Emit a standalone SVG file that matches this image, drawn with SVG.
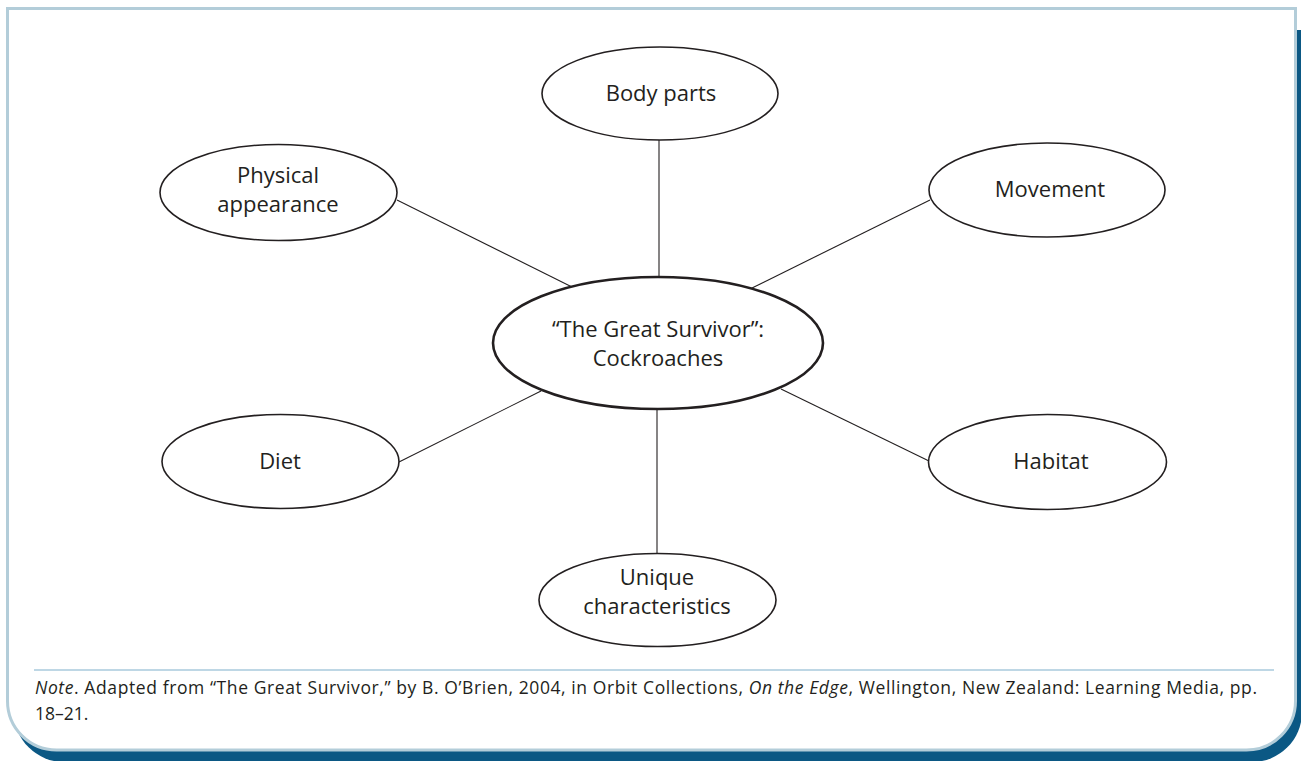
<svg xmlns="http://www.w3.org/2000/svg" width="1301" height="761" viewBox="0 0 1301 761">
<style>
.node ellipse{fill:#fff;stroke:#231f20;stroke-width:1.6}
.node.main ellipse{stroke-width:2.6}
.lbl{font-family:"Open Sans",Lato,sans-serif;font-size:22px;fill:#231f20;text-anchor:middle}
.conn line{stroke:#231f20;stroke-width:1.1}
.note{font-family:"Open Sans",Lato,sans-serif;font-size:17.5px;fill:#231f20}
</style>
<rect width="1301" height="761" fill="#fff"/>
<g id="frame">
<path d="M14 30 H1302 V712 A50 50 0 0 1 1252 762 H64 A50 50 0 0 1 14 712 Z" fill="#0b5884"/>
<path d="M7.5 8.5 H1295.5 V701 A49 49 0 0 1 1246.5 750 H56.5 A49 49 0 0 1 7.5 701 Z" fill="#fff" stroke="#b3cdd9" stroke-width="3"/>
<line x1="34" y1="670" x2="1274" y2="670" stroke="#7fb0cc" stroke-width="1.2"/>
</g>
<g id="connectors" class="conn">
<line x1="659" y1="140" x2="659" y2="277"/>
<line x1="397" y1="200" x2="572" y2="287"/>
<line x1="930" y1="200" x2="750" y2="289"/>
<line x1="399" y1="462" x2="541" y2="391"/>
<line x1="929" y1="461" x2="781" y2="389"/>
<line x1="657" y1="409" x2="657" y2="554"/>
</g>
<g id="node-center" class="node main">
<ellipse cx="658" cy="343" rx="165" ry="66"/>
<text class="lbl" x="658" y="337">“The Great Survivor”:</text>
<text class="lbl" x="658" y="366">Cockroaches</text>
</g>
<g id="node-body" class="node">
<ellipse cx="660" cy="93.5" rx="118" ry="46.5"/>
<text class="lbl" x="661" y="101">Body parts</text>
</g>
<g id="node-physical" class="node">
<ellipse cx="278.5" cy="192.5" rx="118.5" ry="48"/>
<text class="lbl" x="278" y="183">Physical</text>
<text class="lbl" x="278" y="212">appearance</text>
</g>
<g id="node-movement" class="node">
<ellipse cx="1047" cy="190" rx="118" ry="47"/>
<text class="lbl" x="1050" y="197">Movement</text>
</g>
<g id="node-diet" class="node">
<ellipse cx="280.5" cy="461.5" rx="118.5" ry="47"/>
<text class="lbl" x="280" y="469">Diet</text>
</g>
<g id="node-habitat" class="node">
<ellipse cx="1047.5" cy="462" rx="119" ry="47.5"/>
<text class="lbl" x="1051" y="469">Habitat</text>
</g>
<g id="node-unique" class="node">
<ellipse cx="657.5" cy="600" rx="118.5" ry="46.5"/>
<text class="lbl" x="657" y="585">Unique</text>
<text class="lbl" x="657" y="614">characteristics</text>
</g>
<g id="note">
<text class="note" x="35" y="694" textLength="1222" lengthAdjust="spacing"><tspan font-style="italic">Note</tspan>. Adapted from “The Great Survivor,” by B. O’Brien, 2004, in Orbit Collections, <tspan font-style="italic">On the Edge</tspan>, Wellington, New Zealand: Learning Media, pp.</text>
<text class="note" x="35" y="720">18–21.</text>
</g>
</svg>
